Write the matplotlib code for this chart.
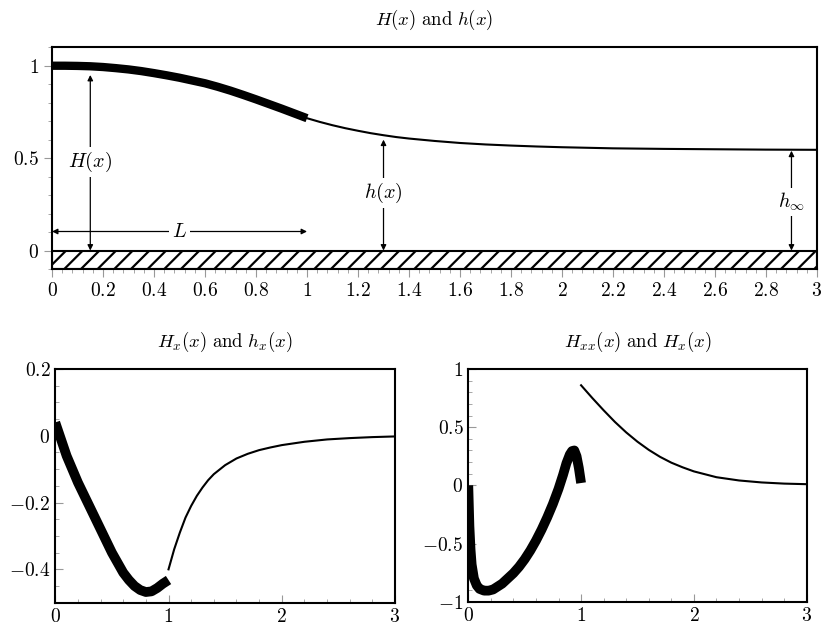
import numpy as np
import matplotlib.pyplot as plt
from matplotlib.ticker import MultipleLocator

plt.rcParams['mathtext.fontset'] = 'cm'
plt.rcParams['font.family'] = 'serif'
plt.rcParams['font.serif'] = ['DejaVu Serif']
plt.rcParams['hatch.linewidth'] = 1.6

# top panel: film height H on [0,1], h on [1,3]
xH = [0.0, 0.05, 0.1, 0.15, 0.2, 0.25, 0.3, 0.35, 0.4, 0.45, 0.5,
      0.55, 0.6, 0.65, 0.7, 0.75, 0.8, 0.85, 0.9, 0.95, 1.0]
H = [1.0, 1.0, 0.999, 0.997, 0.993, 0.987, 0.980, 0.971, 0.960, 0.948, 0.935,
     0.920, 0.905, 0.886, 0.865, 0.842, 0.818, 0.793, 0.768, 0.742, 0.716]
xh = [1.0, 1.05, 1.1, 1.15, 1.2, 1.25, 1.3, 1.35, 1.4, 1.5, 1.6, 1.7,
      1.8, 1.9, 2.0, 2.2, 2.4, 2.6, 2.8, 3.0]
h = [0.716, 0.696, 0.678, 0.662, 0.648, 0.635, 0.624, 0.614, 0.606, 0.593, 0.582, 0.574,
     0.568, 0.563, 0.559, 0.553, 0.550, 0.548, 0.546, 0.545]

# bottom left: first derivatives
xHx = [0.0, 0.05, 0.1, 0.15, 0.2, 0.25, 0.3, 0.35, 0.4, 0.45, 0.5,
       0.55, 0.6, 0.65, 0.7, 0.75, 0.8, 0.85, 0.9, 0.95, 1.0]
Hx = [0.04, -0.01, -0.06, -0.10, -0.14, -0.175, -0.21, -0.245, -0.28, -0.315, -0.35,
      -0.38, -0.41, -0.432, -0.45, -0.462, -0.468, -0.466, -0.456, -0.443, -0.432]
xhx = [1.0, 1.05, 1.1, 1.15, 1.2, 1.25, 1.3, 1.35, 1.4, 1.5, 1.6, 1.7,
       1.8, 1.9, 2.0, 2.2, 2.4, 2.6, 2.8, 3.0]
hx = [-0.40, -0.34, -0.29, -0.245, -0.21, -0.18, -0.155, -0.133, -0.115, -0.088, -0.068, -0.054,
      -0.043, -0.035, -0.028, -0.018, -0.011, -0.007, -0.004, -0.002]

# bottom right: second derivatives
xHxx = [0.0, 0.01, 0.02, 0.03, 0.05, 0.075, 0.1, 0.14, 0.18, 0.22, 0.26, 0.3, 0.35,
        0.4, 0.45, 0.5, 0.55, 0.6, 0.65, 0.7, 0.75, 0.8, 0.84, 0.87, 0.9, 0.92,
        0.94, 0.96, 0.98, 1.0]
Hxx = [0.0, -0.35, -0.55, -0.68, -0.80, -0.86, -0.89, -0.905, -0.905, -0.895, -0.87, -0.845, -0.80,
       -0.755, -0.70, -0.635, -0.56, -0.475, -0.38, -0.275, -0.16, -0.03, 0.09, 0.19, 0.265, 0.295,
       0.30, 0.25, 0.15, 0.02]
xhxx = [1.0, 1.1, 1.2, 1.3, 1.4, 1.5, 1.6, 1.7, 1.8, 1.9, 2.0, 2.2, 2.4, 2.6, 2.8, 3.0]
hxx = [0.86, 0.75, 0.645, 0.545, 0.455, 0.375, 0.305, 0.245, 0.195, 0.155, 0.12, 0.07,
       0.042, 0.025, 0.015, 0.01]

fs_tick = 14
fs_title = 13.5
fs_lab = 14.5
tickgray = '#999999'

fig = plt.figure(figsize=(8.3, 6.3), dpi=100)

# ---------- top ----------
ax = fig.add_axes([0.0627, 0.573, 0.9216, 0.352])
ax.plot(xH, H, color='black', lw=6, solid_capstyle='butt', solid_joinstyle='round')
ax.plot(xh, h, color='black', lw=1.5)
ax.add_patch(plt.Rectangle((0, -0.1), 3, 0.1, facecolor='white', edgecolor='black',
                           hatch='//', lw=1.5))
ax.set_xlim(0, 3)
ax.set_ylim(-0.1, 1.1)
ax.set_xticks(np.arange(0, 3.01, 0.2))
ax.set_xticklabels(['$0$'] + ['$%g$' % v for v in np.arange(0.2, 3.01, 0.2)])
ax.xaxis.set_minor_locator(MultipleLocator(0.04))
ax.set_yticks([0, 0.5, 1])
ax.set_yticklabels(['$0$', '$0.5$', '$1$'])
ax.yaxis.set_minor_locator(MultipleLocator(0.1))
ax.tick_params(which='both', direction='out', color=tickgray, labelsize=fs_tick, top=False, right=False)
ax.tick_params(which='major', length=6)
ax.tick_params(which='minor', length=3)
for s in ax.spines.values():
    s.set_linewidth(1.5)
ax.set_title(r'$H(x)\ \mathrm{and}\ h(x)$', fontsize=fs_title, pad=16)

arr = dict(arrowstyle='<|-|>', color='black', lw=0.9, mutation_scale=8, shrinkA=0, shrinkB=0)
lab = dict(fontsize=fs_lab, ha='center', va='center',
           bbox=dict(facecolor='white', edgecolor='none', pad=2))
ax.annotate('', xy=(0.15, 0.95), xytext=(0.15, 0.0), arrowprops=arr)
ax.text(0.15, 0.48, '$H(x)$', **lab)
ax.annotate('', xy=(0.0, 0.103), xytext=(1.0, 0.103), arrowprops=arr)
ax.text(0.5, 0.103, '$L$', **lab)
ax.annotate('', xy=(1.3, 0.6), xytext=(1.3, 0.0), arrowprops=arr)
ax.text(1.3, 0.31, '$h(x)$', **lab)
ax.annotate('', xy=(2.9, 0.54), xytext=(2.9, 0.0), arrowprops=arr)
ax.text(2.9, 0.265, r'$h_\infty$', **lab)


def bottom_style(a):
    a.set_xlim(0, 3)
    a.set_xticks([0, 1, 2, 3])
    a.set_xticklabels(['$0$', '$1$', '$2$', '$3$'])
    a.xaxis.set_minor_locator(MultipleLocator(0.2))
    a.tick_params(which='both', direction='in', color=tickgray, labelsize=fs_tick, top=False, right=False)
    a.tick_params(which='major', length=6)
    a.tick_params(which='minor', length=3)
    for s in a.spines.values():
        s.set_linewidth(1.5)


# ---------- bottom left ----------
ax1 = fig.add_axes([0.0666, 0.0433, 0.4093, 0.371])
ax1.plot(xHx, Hx, color='black', lw=7, solid_capstyle='butt', solid_joinstyle='round')
ax1.plot(xhx, hx, color='black', lw=1.5)
ax1.set_ylim(-0.5, 0.2)
ax1.set_yticks([-0.4, -0.2, 0, 0.2])
ax1.set_yticklabels(['$-0.4$', '$-0.2$', '$0$', '$0.2$'])
ax1.yaxis.set_minor_locator(MultipleLocator(0.05))
bottom_style(ax1)
ax1.set_title(r'$H_x(x)\ \mathrm{and}\ h_x(x)$', fontsize=fs_title, pad=16)

# ---------- bottom right ----------
ax2 = fig.add_axes([0.5642, 0.0449, 0.4077, 0.3694])
ax2.plot(xHxx, Hxx, color='black', lw=7, solid_capstyle='butt', solid_joinstyle='round')
ax2.plot(xhxx, hxx, color='black', lw=1.5)
ax2.set_ylim(-1, 1)
ax2.set_yticks([-1, -0.5, 0, 0.5, 1])
ax2.set_yticklabels(['$-1$', '$-0.5$', '$0$', '$0.5$', '$1$'])
ax2.yaxis.set_minor_locator(MultipleLocator(0.1))
bottom_style(ax2)
ax2.set_title(r'$H_{xx}(x)\ \mathrm{and}\ H_x(x)$', fontsize=fs_title, pad=16)

fig.savefig('out.png', dpi=100)
